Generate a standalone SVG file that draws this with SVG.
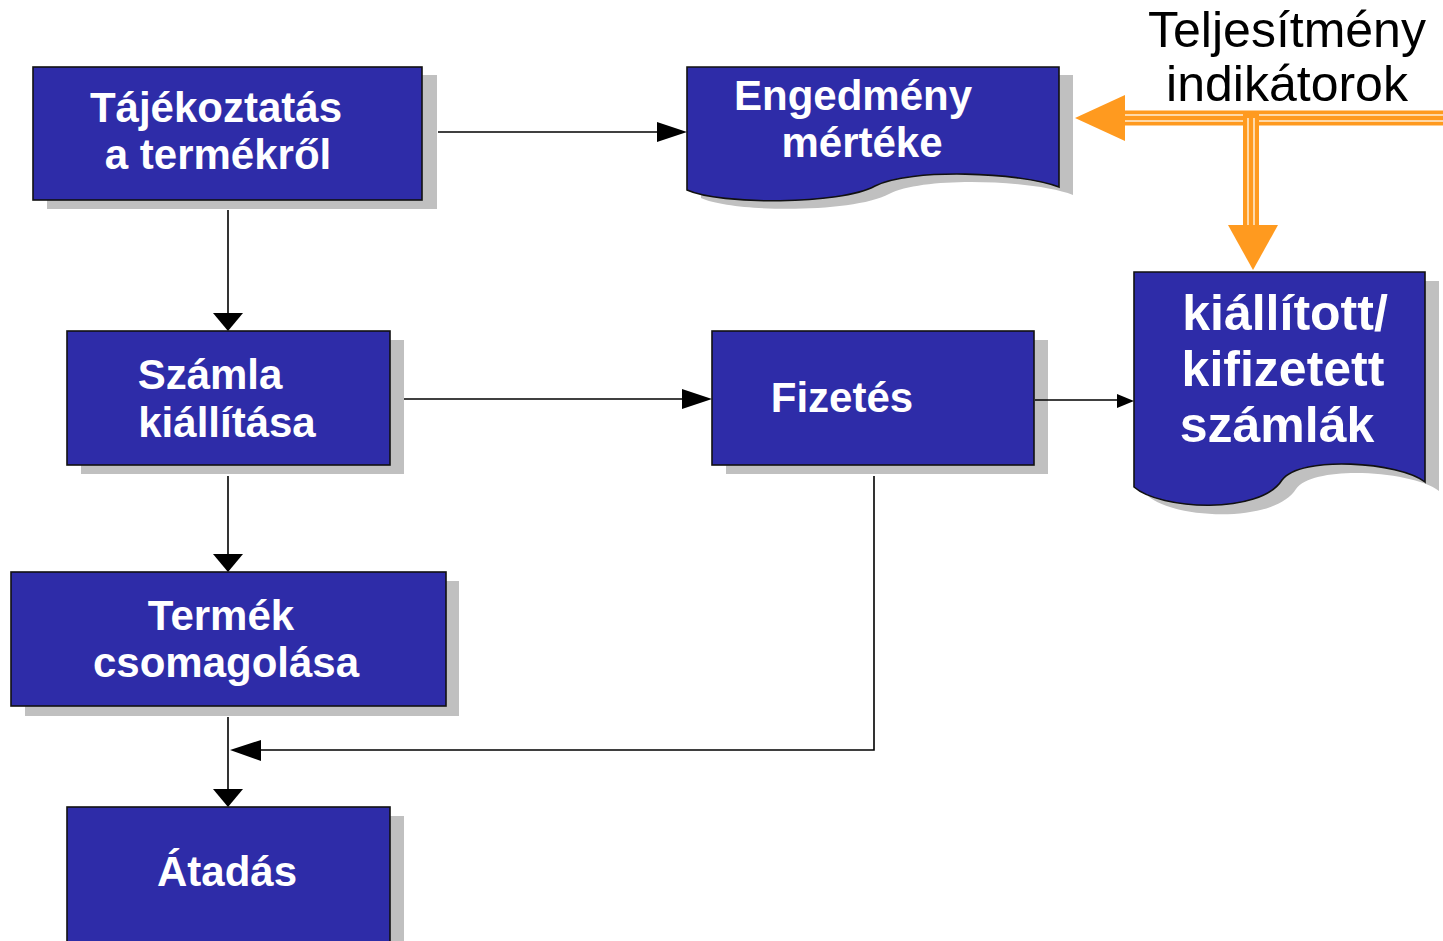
<svg xmlns="http://www.w3.org/2000/svg" width="1443" height="941" viewBox="0 0 1443 941">
  <defs>
    <style>
      .shadow { fill: #c0c0c0; }
      .box { fill: #2e2ca8; stroke: #111; stroke-width: 1.6; }
      .label { font-family: "Liberation Sans", Arial, sans-serif; font-weight: bold; fill: #ffffff; text-anchor: middle; font-size: 42px; }
      .big { font-size: 50px; }
      .title { font-family: "Liberation Sans", Arial, sans-serif; fill: #000; text-anchor: middle; font-size: 50px; }
      .conn { fill: none; stroke: #000; stroke-width: 1.6; }
      .head { fill: #000; }
      .orange { fill: none; stroke: #ff9a1f; }
      .stripe { fill: none; stroke: #ffd9a8; stroke-width: 2; }
    </style>
  </defs>
  <rect width="1443" height="941" fill="#ffffff"/>

  <!-- title -->
  <g id="title">
    <text class="title" x="1287" y="47">Teljesítmény</text>
    <text class="title" x="1287" y="101">indikátorok</text>
  </g>

  <!-- process boxes -->
  <g id="tajekoztatas">
    <rect class="shadow" x="47" y="75" width="390" height="134"/>
    <rect class="box" x="33" y="67" width="389" height="133"/>
    <text class="label" x="216" y="122">Tájékoztatás</text>
    <text class="label" x="218" y="169">a termékről</text>
  </g>

  <g id="engedmeny">
    <path class="shadow" transform="translate(14,8)" d="M687,67 H1059 V187 C1020,172 910,168 875,186 C840,205 720,205 687,190 Z"/>
    <path class="box" d="M687,67 H1059 V187 C1020,172 910,168 875,186 C840,205 720,205 687,190 Z"/>
    <text class="label" x="853" y="110">Engedmény</text>
    <text class="label" x="862" y="157">mértéke</text>
  </g>

  <g id="szamla">
    <rect class="shadow" x="81" y="340" width="323" height="134"/>
    <rect class="box" x="67" y="331" width="323" height="134"/>
    <text class="label" x="210" y="389">Számla</text>
    <text class="label" x="227" y="437">kiállítása</text>
  </g>

  <g id="fizetes">
    <rect class="shadow" x="726" y="340" width="322" height="134"/>
    <rect class="box" x="712" y="331" width="322" height="134"/>
    <text class="label" x="842" y="412">Fizetés</text>
  </g>

  <g id="szamlak">
    <path class="shadow" transform="translate(14,9)" d="M1134,272 H1425 V482 C1400,462 1300,455 1282,480 C1260,515 1160,510 1134,487 Z"/>
    <path class="box" d="M1134,272 H1425 V482 C1400,462 1300,455 1282,480 C1260,515 1160,510 1134,487 Z"/>
    <text class="label big" x="1285" y="330">kiállított/</text>
    <text class="label big" x="1283" y="386">kifizetett</text>
    <text class="label big" x="1277" y="442">számlák</text>
  </g>

  <g id="termek">
    <rect class="shadow" x="25" y="581" width="434" height="135"/>
    <rect class="box" x="11" y="572" width="435" height="134"/>
    <text class="label" x="221" y="630">Termék</text>
    <text class="label" x="226" y="677">csomagolása</text>
  </g>

  <g id="atadas">
    <rect class="shadow" x="81" y="816" width="323" height="140"/>
    <rect class="box" x="67" y="807" width="323" height="150"/>
    <text class="label" x="227" y="886">Átadás</text>
  </g>

  <!-- connectors -->
  <g id="connectors">
    <path class="conn" d="M438,132 H660"/>
    <polygon class="head" points="687,132 657,122 657,142"/>

    <path class="conn" d="M228,210 V315"/>
    <polygon class="head" points="228,331 213,313 243,313"/>

    <path class="conn" d="M404,399 H685"/>
    <polygon class="head" points="712,399 682,389 682,409"/>

    <path class="conn" d="M228,476 V556"/>
    <polygon class="head" points="228,572 213,554 243,554"/>

    <path class="conn" d="M228,717 V791"/>
    <polygon class="head" points="228,807 213,789 243,789"/>

    <path class="conn" d="M874,476 V750 H258"/>
    <polygon class="head" points="230,750 261,740 261,761"/>

    <path class="conn" d="M1035,400 H1120"/>
    <polygon class="head" points="1134,401 1117,394 1117,408"/>
  </g>

  <!-- performance indicator feed -->
  <g id="indicators">
    <path class="orange" stroke-width="15" d="M1443,118 H1120"/>
    <path class="stripe" d="M1443,115 H1124"/>
    <path class="stripe" d="M1443,121 H1124"/>
    <polygon fill="#ff9a1f" points="1075,118 1125,95 1125,141"/>

    <path class="orange" stroke-width="16" d="M1251,111 V230"/>
    <path class="stripe" d="M1248,118 V228"/>
    <path class="stripe" d="M1254,118 V228"/>
    <polygon fill="#ff9a1f" points="1253,270 1228,225 1278,225"/>
  </g>
</svg>
